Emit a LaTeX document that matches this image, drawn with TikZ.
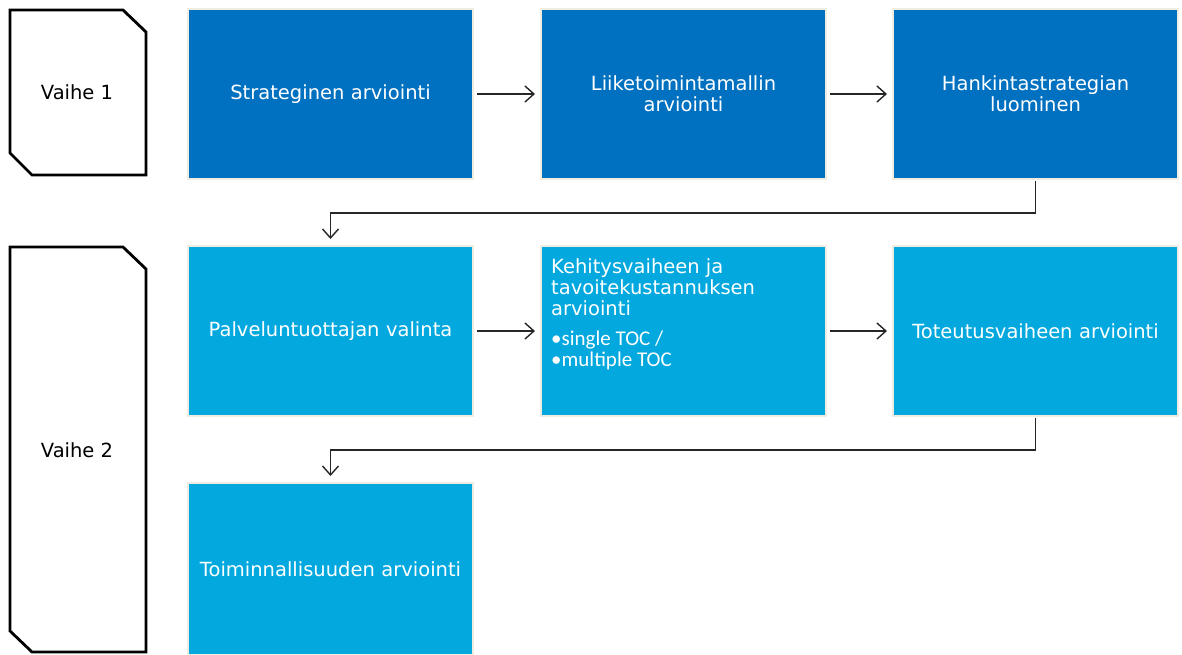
\documentclass[tikz,border=0pt]{standalone}
\usepackage{fontspec}
\setmainfont{DejaVu Sans}
\newfontfamily\bulletfont{Carlito}
\usetikzlibrary{arrows.meta}
\definecolor{darkblue}{HTML}{0070C0}
\definecolor{lightblue}{HTML}{02A8DE}
\definecolor{boxedge}{HTML}{EFEDE2}
\tikzset{
  stagebox/.style={rectangle, draw=boxedge, line width=2pt, minimum width=285pt, minimum height=170pt, text=white, align=center, text width=270pt, font=\fontsize{19.5}{21}\selectfont, inner sep=0pt},
  darkstage/.style={stagebox, fill=darkblue},
  lightstage/.style={stagebox, fill=lightblue},
  phaseshape/.style={draw=black, line width=2.8pt, line join=miter},
  phaselabel/.style={font=\fontsize{19.5}{21}\selectfont, text=black},
  flow/.style={draw=black!85, line width=1.4pt, -{Straight Barb[length=9pt,width=16pt,line width=1.4pt]}},
}
\begin{document}
\begin{tikzpicture}[x=1pt,y=-1pt]
\useasboundingbox[fill=white] (0,0) rectangle (1182,654);
% phase shapes
\draw[phaseshape] (10,10) -- (123,10) -- (146,32) -- (146,175) -- (32,175) -- (10,153) -- cycle;
\node[phaselabel] (p1) at (77,92) {Vaihe 1};
\draw[phaseshape] (10,247) -- (123,247) -- (146,269) -- (146,652) -- (32,652) -- (10,631) -- cycle;
\node[phaselabel] (p2) at (77,450) {Vaihe 2};
% row 1
\node[darkstage] (b1) at (330.5,94) {Strateginen arviointi};
\node[darkstage] (b2) at (683.5,94) {Liiketoimintamallin\\arviointi};
\node[darkstage] (b3) at (1035.5,94) {Hankintastrategian\\luominen};
% row 2
\node[lightstage] (b4) at (330.5,331) {Palveluntuottajan valinta};
\node[lightstage] (b5) at (683.5,331) {};
\node[anchor=north west, align=left, text=white, inner sep=0pt, font=\fontsize{19.5}{21}\selectfont] (b5t) at (551,258) {Kehitysvaiheen ja\\tavoitekustannuksen\\arviointi\\[9pt]{\bulletfont\fontsize{21}{21}\selectfont •single TOC /}\\{\bulletfont\fontsize{21}{21}\selectfont •multiple TOC}};
\node[lightstage] (b6) at (1035.5,331) {Toteutusvaiheen arviointi};
% row 3
\node[lightstage, minimum height=172pt] (b7) at (330.5,569) {Toiminnallisuuden arviointi};
% connectors
\draw[flow, shorten <=3pt, shorten >=5pt] (b1.east) -- (b2.west);
\draw[flow, shorten <=3pt, shorten >=5pt] (b2.east) -- (b3.west);
\draw[flow, shorten <=3pt, shorten >=5pt] (b4.east) -- (b5.west);
\draw[flow, shorten <=3pt, shorten >=5pt] (b5.east) -- (b6.west);
\draw[flow, shorten <=1pt, shorten >=6pt] (b3.south) -- ++(0,33) -| (b4.north);
\draw[flow, shorten <=1pt, shorten >=6pt] (b6.south) -- ++(0,33) -| (b7.north);
\end{tikzpicture}
\end{document}
